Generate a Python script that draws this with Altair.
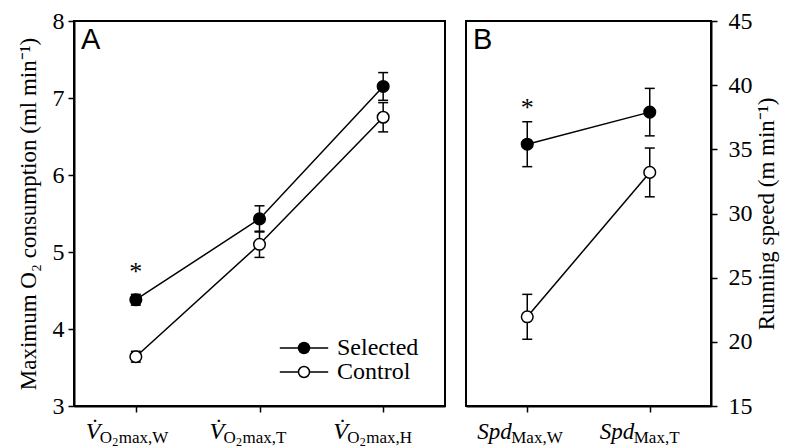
import altair as alt
import pandas as pd

SERIES = ["Selected", "Control"]
SERIF = "'Liberation Serif', 'Times New Roman', Times, serif"
SANS = "'Liberation Sans', Arial, Helvetica, sans-serif"

# ---------------- Panel A: maximum O2 consumption ----------------
a_keys = ["W", "T", "H"]
a_sel = [4.38, 5.43, 7.15]
a_sel_se = [0.07, 0.17, 0.18]
a_ctl = [3.64, 5.10, 6.75]
a_ctl_se = [0.07, 0.17, 0.19]
a_lab_main = ["V\u0307", "V\u0307", "V\u0307"]
a_lab_o = ["O", "O", "O"]
a_lab_2 = ["2", "2", "2"]
a_lab_rest = ["max,W", "max,T", "max,H"]
a_star_key = ["W"]
a_star_val = [4.79]
a_ticks = [3, 4, 5, 6, 7, 8]
a_domain = [3, 8]
a_title = "Maximum O\u2082 consumption (ml min\u207b\u00b9)"

# ---------------- Panel B: running speed ----------------
b_keys = ["W", "T"]
b_sel = [35.4, 37.9]
b_sel_se = [1.75, 1.85]
b_ctl = [21.95, 33.2]
b_ctl_se = [1.75, 1.9]
b_lab_main = ["Spd", "Spd"]
b_lab_rest = ["Max,W", "Max,T"]
b_star_key = ["W"]
b_star_val = [38.5]
b_ticks = [15, 20, 25, 30, 35, 40, 45]
b_domain = [15, 45]
b_title = "Running speed (m min\u207b\u00b9)"

H = 385
WA = 371
WB = 245

LEGEND_PATH = "M-4.4,0H-1M1,0H4.4M-1,0A1,1,0,1,1,1,0A1,1,0,1,1,-1,0Z"


def series_df(keys, sel, sel_se, ctl, ctl_se):
    rows = []
    for name, vals, ses in (("Selected", sel, sel_se), ("Control", ctl, ctl_se)):
        for k, v, s in zip(keys, vals, ses):
            rows.append({"key": k, "series": name, "value": v, "lo": v - s, "hi": v + s})
    return pd.DataFrame(rows)


def make_panel(df, keys, domain, ticks, title, orient, pieces, letter, star_keys, star_vals,
               width, legend):
    xs = alt.Scale(type="point", domain=keys, padding=0.5)
    ys = alt.Scale(domain=domain, nice=False, zero=False)
    xaxis = alt.Axis(labels=False, title=None, tickSize=6, domainWidth=2)
    if orient == "left":
        yaxis = alt.Axis(values=ticks, orient="left", title=title, tickSize=6,
                         labelPadding=4, titlePadding=12)
    else:
        yaxis = alt.Axis(values=ticks, orient="right", title=title, tickSize=6,
                         labelPadding=11, titlePadding=3, titleAngle=270,
                         titleBaseline="top")

    def X():
        return alt.X("key:N", scale=xs, axis=xaxis, sort=keys)

    def Y(field):
        return alt.Y(f"{field}:Q", scale=ys, axis=yaxis)

    base = alt.Chart(df)
    lines = base.mark_line(color="black", strokeWidth=1.5).encode(
        x=X(), y=Y("value"), detail="series:N")
    bars = base.mark_rule(color="black", strokeWidth=1.5).encode(
        x=X(), y=Y("lo"), y2="hi:Q")
    cap_lo = base.mark_tick(color="black", orient="horizontal", size=10, thickness=1.5,
                            opacity=1).encode(x=X(), y=Y("lo"))
    cap_hi = base.mark_tick(color="black", orient="horizontal", size=10, thickness=1.5,
                            opacity=1).encode(x=X(), y=Y("hi"))
    if legend:
        leg = alt.Legend(orient="none", legendX=218, legendY=315, title=None,
                         symbolType=LEGEND_PATH, symbolSize=121,
                         symbolStrokeColor="black", symbolStrokeWidth=1.5,
                         labelFont=SERIF, labelFontSize=24, labelColor="black",
                         labelOffset=21, rowPadding=0, padding=0, labelLimit=300)
    else:
        leg = None
    points = base.mark_point(filled=True, shape="circle", size=135, stroke="black",
                             strokeWidth=1.5, opacity=1).encode(
        x=X(), y=Y("value"),
        fill=alt.Fill("series:N", scale=alt.Scale(domain=SERIES, range=["black", "white"]),
                      legend=leg))
    star = alt.Chart(pd.DataFrame({"key": star_keys, "value": star_vals, "t": ["*"] * len(star_keys)})
                     ).mark_text(font=SERIF, fontSize=26, color="black", baseline="alphabetic",
                                 dy=12).encode(x=X(), y=Y("value"), text="t:N")

    layers = [lines, bars, cap_lo, cap_hi, points, star]
    for field_vals, dx, dy, size, style in pieces:
        pdf = pd.DataFrame({"key": keys, "t": field_vals})
        layers.append(
            alt.Chart(pdf).mark_text(font=SERIF, fontSize=size, fontStyle=style, color="black",
                                     align="left", baseline="alphabetic", dx=dx).encode(
                x=X(), y=alt.value(H + dy), text="t:N"))
    lett = alt.Chart(pd.DataFrame({"t": [letter]})).mark_text(
        font=SANS, fontSize=29, color="black", align="left", baseline="alphabetic").encode(
        x=alt.value(7), y=alt.value(28), text="t:N")
    layers.append(lett)
    return alt.layer(*layers).properties(width=width, height=H)


dfa = series_df(a_keys, a_sel, a_sel_se, a_ctl, a_ctl_se)
dfb = series_df(b_keys, b_sel, b_sel_se, b_ctl, b_ctl_se)

pieces_a = [
    (a_lab_main, -50, 33, 24, "italic"),
    (a_lab_o, -36, 37, 17, "normal"),
    (a_lab_2, -23.5, 40, 12, "normal"),
    (a_lab_rest, -17, 37, 17, "normal"),
]
pieces_b = [
    (b_lab_main, -50, 33, 23, "italic"),
    (b_lab_rest, -16, 37, 17, "normal"),
]

panel_a = make_panel(dfa, a_keys, a_domain, a_ticks, a_title, "left", pieces_a, "A",
                     a_star_key, a_star_val, WA, True)
panel_b = make_panel(dfb, b_keys, b_domain, b_ticks, b_title, "right", pieces_b, "B",
                     b_star_key, b_star_val, WB, False)

chart = alt.hconcat(panel_a, panel_b, spacing=19).resolve_scale(
    x="independent", y="independent", fill="independent"
).resolve_legend(fill="independent").properties(
    padding={"left": 8, "top": 0, "right": 5, "bottom": 0}
).configure_view(stroke="black", strokeWidth=2).configure_axis(
    domainColor="black", domainWidth=2, tickColor="black", tickWidth=1.5,
    labelColor="black", titleColor="black", labelFont=SERIF, titleFont=SERIF,
    labelFontSize=24, titleFontSize=23, titleFontWeight="normal", grid=False
).configure_tick(opacity=1)

chart.save("out.html", embed_options={"renderer": "svg", "actions": False})
